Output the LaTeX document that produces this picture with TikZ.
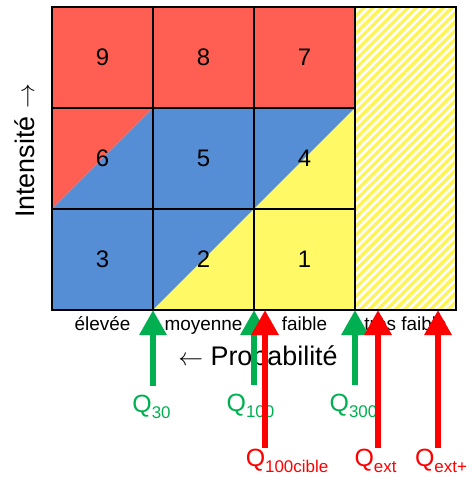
\documentclass[tikz,border=0pt]{standalone}
\usepackage{fontspec}
\setmainfont{Liberation Sans}
\usepackage{tikz}
\usetikzlibrary{arrows.meta,patterns.meta}
\definecolor{riskRed}{HTML}{FF5F52}
\definecolor{riskBlue}{HTML}{558ED5}
\definecolor{riskYellow}{HTML}{FFF966}
\definecolor{hatchYellow}{HTML}{FFF455}
\definecolor{flowGreen}{HTML}{00B050}
\definecolor{flowRed}{HTML}{FF0000}
\newcommand{\qsub}[1]{\raisebox{-6bp}{\fontsize{17}{17}\selectfont #1}}

\begin{document}
\begin{tikzpicture}[
  x=1bp, y=-1bp,
  cell number/.style={
    font=\fontsize{24}{28}\selectfont,
    inner sep=0pt
  },
  class label/.style={
    font=\fontsize{19}{22}\selectfont,
    anchor=base,
    inner sep=0pt
  },
  axis label/.style={
    font=\fontsize{27}{32}\selectfont,
    anchor=base,
    inner sep=0pt
  },
  flow label/.style={
    font=\fontsize{25}{30}\selectfont,
    anchor=base,
    inner sep=0pt
  },
  grid line/.style={
    draw=black,
    line width=1.5bp
  },
  flow arrow/.style={
    -{Triangle[width=26bp,length=25bp]},
    line width=6bp
  },
  green flow/.style={
    flow arrow,
    draw=flowGreen,
    shorten <=8.8bp
  },
  red flow/.style={
    flow arrow,
    draw=flowRed,
    shorten <=0.8bp
  }
]
\useasboundingbox (0,0) rectangle (467,477);

% Coloured zones of the matrix
\fill[riskRed] (52,7) rectangle (355,108);
\fill[riskRed] (52,108) -- (153,108) -- (52,209) -- cycle;
\fill[riskBlue] (52,209) -- (153,108) -- (355,108) -- (153,310) -- (52,310) -- cycle;
\fill[riskYellow] (153,310) -- (355,108) -- (355,310) -- cycle;
\fill[pattern={Lines[angle=45,distance=6.2bp,line width=3.3bp]}, pattern color=hatchYellow]
  (355,7) rectangle (456,310);

% Grid
\draw[grid line] (52,7) rectangle (456,310);
\draw[grid line] (153,7) -- (153,310) (254,7) -- (254,310) (355,7) -- (355,310);
\draw[grid line] (52,108) -- (355,108) (52,209) -- (355,209);

% Cell numbers
\node[cell number] (n9) at (102.5,57.5) {9};
\node[cell number] (n8) at (203.5,57.5) {8};
\node[cell number] (n7) at (304.5,57.5) {7};
\node[cell number] (n6) at (102.5,158.5) {6};
\node[cell number] (n5) at (203.5,158.5) {5};
\node[cell number] (n4) at (304.5,158.5) {4};
\node[cell number] (n3) at (102.5,259.5) {3};
\node[cell number] (n2) at (203.5,259.5) {2};
\node[cell number] (n1) at (304.5,259.5) {1};

% Probability classes and axes
\node[class label] (elevee) at (102.5,330) {élevée};
\node[class label] (moyenne) at (203.5,330) {moyenne};
\node[class label] (faible) at (304.5,330) {faible};
\node[class label] (tresFaible) at (405.5,330) {très faible};

\node[axis label, rotate=90] (intensite) at (34,151) {Intensité $\rightarrow$};
\node[axis label] (probabilite) at (258,365) {$\leftarrow$ Probabilité};

% Discharge labels
\node[flow label, text=flowGreen] (q30) at (151.5,412) {Q\qsub{30}};
\node[flow label, text=flowGreen] (q100) at (250.5,411) {Q\qsub{100}};
\node[flow label, text=flowGreen] (q300) at (353.5,411) {Q\qsub{300}};
\node[flow label, text=flowRed] (q100cible) at (287,466) {Q\qsub{100cible}};
\node[flow label, text=flowRed] (qext) at (375.5,466) {Q\qsub{ext}};
\node[flow label, text=flowRed] (qextplus) at (441,466) {Q\qsub{ext+}};

\coordinate (tip30) at (153,310);
\coordinate (tip100) at (254,310);
\coordinate (tip300) at (355,310);
\coordinate (tip100cible) at (265,310);
\coordinate (tipExt) at (378,310);
\coordinate (tipExtPlus) at (438,310);

% Arrows
\draw[green flow] (q30.north -| tip30) -- (tip30);
\draw[green flow] (q100.north -| tip100) -- (tip100);
\draw[green flow] (q300.north -| tip300) -- (tip300);
\draw[red flow] (q100cible.north -| tip100cible) -- (tip100cible);
\draw[red flow] (qext.north -| tipExt) -- (tipExt);
\draw[red flow] (qextplus.north -| tipExtPlus) -- (tipExtPlus);

\end{tikzpicture}
\end{document}
